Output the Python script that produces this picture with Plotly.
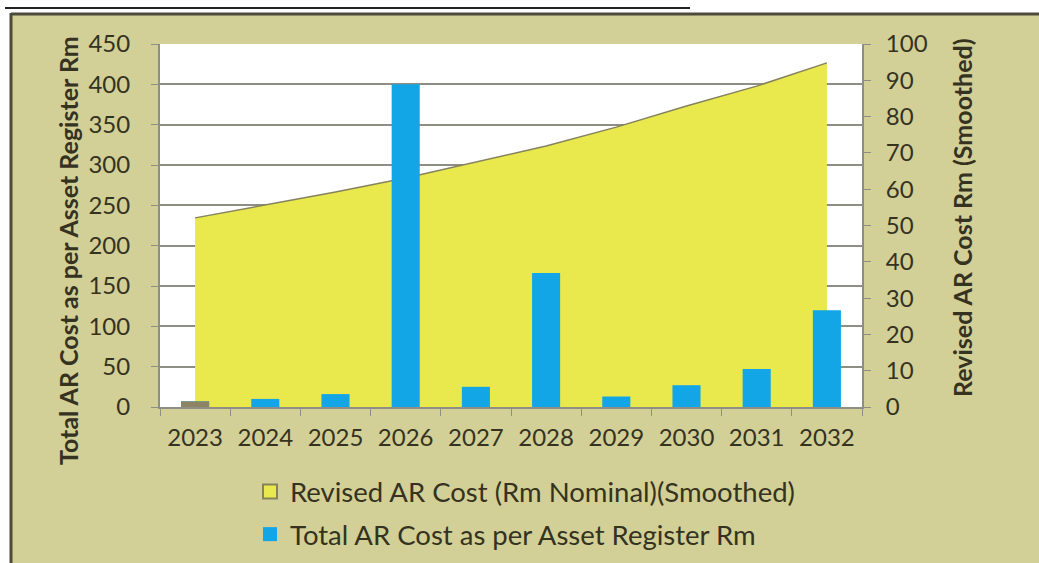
"""Asset register cost vs revised (smoothed) cost, 2023-2032"""

import plotly.graph_objects as go

years = ["2023", "2024", "2025", "2026", "2027", "2028", "2029", "2030", "2031", "2032"]
revised_cost = [52.1, 55.6, 59.2, 63.1, 67.5, 71.9, 77.1, 82.9, 88.4, 94.8]
register_cost = [7, 10, 16, 400, 25, 166, 13, 27, 47, 120]

W, H = 1039, 563
L, R, T, B = 160, 862, 44, 407  # plot area in pixels


def px(x):
    return (x - L) / (R - L)


def py(y):
    return (B - y) / (B - T)


TEXT = "#35331F"
GRID = "#8E8E84"
FONT = "Lato"
YELLOW = "#E9E84C"
OLIVE_LINE = "#85825E"
BLUE = "#12A6E6"

fig = go.Figure()

# Smoothed revised cost as yellow area (right axis)
fig.add_trace(
    go.Scatter(
        x=years,
        y=revised_cost,
        mode="lines",
        fill="tozeroy",
        fillcolor=YELLOW,
        line=dict(color=OLIVE_LINE, width=1.5),
        name="Revised AR Cost (Rm Nominal)(Smoothed)",
        yaxis="y",
        showlegend=False,
    )
)

# Asset register cost as bars (left axis)
fig.add_trace(
    go.Bar(
        x=years,
        y=register_cost,
        width=0.4,
        marker=dict(color=BLUE, line=dict(width=0)),
        name="Total AR Cost as per Asset Register Rm",
        yaxis="y2",
        showlegend=False,
    )
)

# first year bar is drawn in grey-olive in the source
fig.add_trace(
    go.Bar(
        x=years[:1],
        y=register_cost[:1],
        width=0.4,
        marker=dict(color="#8C8462", line=dict(width=0)),
        yaxis="y2",
        showlegend=False,
        hoverinfo="skip",
    )
)

# legend entries with square swatches
fig.add_trace(
    go.Scatter(
        x=[None], y=[None], mode="markers",
        marker=dict(symbol="square", size=14, color=YELLOW, line=dict(color=OLIVE_LINE, width=2)),
        name="Revised AR Cost (Rm Nominal)(Smoothed)", legendgroup="a",
    )
)
fig.add_trace(
    go.Scatter(
        x=[None], y=[None], mode="markers",
        marker=dict(symbol="square", size=14, color=BLUE),
        name="Total AR Cost as per Asset Register Rm", legendgroup="b",
    )
)

# frame decoration
shapes = [
    dict(type="rect", xref="paper", yref="paper", x0=px(0), x1=px(W), y0=py(0), y1=py(13),
         fillcolor="white", line=dict(width=0), layer="below"),
    dict(type="rect", xref="paper", yref="paper", x0=px(0), x1=px(10), y0=py(0), y1=py(H),
         fillcolor="white", line=dict(width=0), layer="below"),
    dict(type="line", xref="paper", yref="paper", x0=px(11), x1=px(W), y0=py(14), y1=py(14),
         line=dict(color="#4B4A3C", width=3)),
    dict(type="line", xref="paper", yref="paper", x0=px(11), x1=px(11), y0=py(13), y1=py(H),
         line=dict(color="#4B4A3C", width=3)),
    dict(type="line", xref="paper", yref="paper", x0=px(5), x1=px(690), y0=py(8), y1=py(8),
         line=dict(color="#222222", width=2)),
]

# axis titles as rotated annotations (they sit off-centre in the source)
annotations = [
    dict(text="<b>Total AR Cost as per Asset Register Rm</b>", xref="paper", yref="paper",
         x=px(68), y=py(251), textangle=-90, showarrow=False,
         font=dict(size=25, color=TEXT), xanchor="center", yanchor="middle"),
    dict(text="<b>Revised AR Cost Rm (Smoothed)</b>", xref="paper", yref="paper",
         x=px(962), y=py(218), textangle=-90, showarrow=False,
         font=dict(size=25, color=TEXT), xanchor="center", yanchor="middle"),
]

axis_common = dict(
    showline=True,
    linecolor=GRID,
    linewidth=2,
    ticks="outside",
    ticklen=7,
    tickcolor=GRID,
    tickfont=dict(size=24),
    automargin=False,
)

fig.update_layout(
    width=W,
    height=H,
    autosize=False,
    margin=dict(l=L, r=W - R, t=T, b=H - B, pad=0, autoexpand=False),
    paper_bgcolor="#D2CF97",
    plot_bgcolor="white",
    font=dict(family=FONT, color=TEXT, size=24),
    shapes=shapes,
    annotations=annotations,
    barmode="overlay",
    showlegend=True,
    legend=dict(
        x=px(250),
        y=py(467),
        xanchor="left",
        yanchor="top",
        orientation="v",
        traceorder="grouped",
        tracegroupgap=4,
        bgcolor="rgba(0,0,0,0)",
        font=dict(size=27.5, color=TEXT),
        itemwidth=30,
    ),
    xaxis=dict(
        type="category",
        range=[-0.5, 9.5],
        tickson="boundaries",
        ticklabelstandoff=8,
        showgrid=False,
        **axis_common,
    ),
    yaxis=dict(
        side="right",
        range=[0, 100],
        dtick=10,
        showgrid=False,
        ticklabelstandoff=10,
        **axis_common,
    ),
    yaxis2=dict(
        overlaying="y",
        side="left",
        range=[0, 450],
        dtick=50,
        showgrid=True,
        gridcolor=GRID,
        gridwidth=2,
        ticklabelstandoff=16,
        **axis_common,
    ),
)

fig.write_html(
    "out.html",
    config={"displayModeBar": False},
    post_script="document.body.style.margin='0';",
)
